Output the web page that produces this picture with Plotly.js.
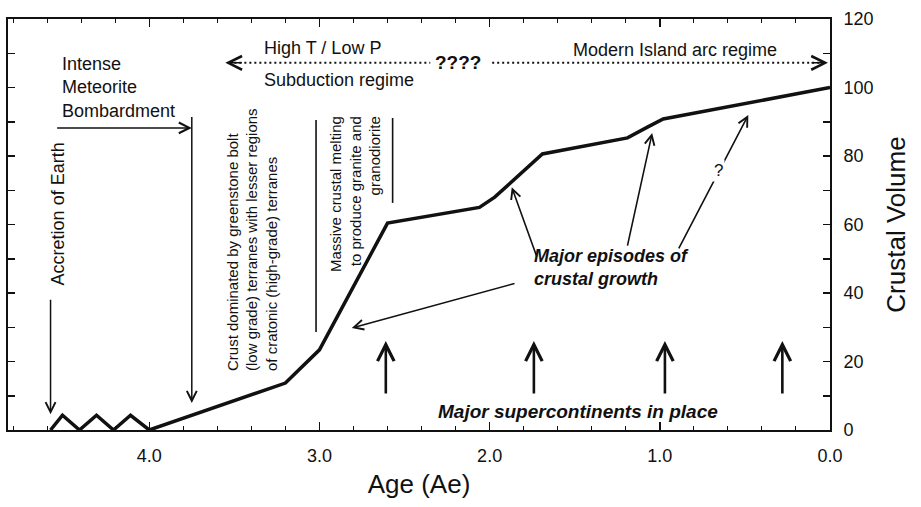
<!DOCTYPE html>
<html><head><meta charset="utf-8">
<script src="https://cdn.plot.ly/plotly-3.0.1.min.js"></script>
<style>html,body{margin:0;padding:0;background:#fff}#chart{width:921px;height:507px}</style>
</head><body><div id="chart"></div>
<script>
// Crustal growth curve (age in Ae, crustal volume in %)
const ageAe = [4.58, 4.51, 4.41, 4.31, 4.21, 4.11, 4.0, 3.2, 3.0, 2.6, 2.06, 1.97, 1.69, 1.19, 1.07, 0.98, 0.0];
const crustalVolume = [0, 4.3, 0, 4.3, 0, 4.3, 0, 13.7, 23.4, 60.4, 65.0, 68.0, 80.6, 85.3, 88.5, 90.8, 100];

// "Major episodes of crustal growth" arrows
const episodeTipAge = [2.81, 1.87, 1.045, 0.48];
const episodeTipVol = [29.8, 70.9, 86.7, 92.0];
const episodeTailAge = [1.845, 1.72, 1.192, 0.893];
const episodeTailVol = [42.9, 50.2, 53.4, 52.6];

// Major supercontinents in place
const superAges = [2.61, 1.74, 0.97, 0.28];
const superArrowBase = 10.2;
const superArrowTop = 26;

// Regime boundaries
const bombardmentEnd = 3.75;
const melting = [3.02, 2.57];

const FONT = 'Liberation Sans, Arial, Helvetica, sans-serif';
const K = '#111';

const traces = [{
  x: ageAe, y: crustalVolume, type: 'scatter', mode: 'lines',
  line: {color: K, width: 3.5}, hoverinfo: 'skip'
}];

function arr(x, y, ax, ay, o) {
  return Object.assign({x: x, y: y, ax: ax, ay: ay, xref: 'x', yref: 'y', axref: 'x', ayref: 'y',
    text: '', showarrow: true, arrowhead: 5, arrowsize: 1.2, arrowwidth: 1.6, arrowcolor: K, standoff: 0}, o || {});
}
function txt(x, y, t, o) {
  return Object.assign({x: x, y: y, xref: 'x', yref: 'y', text: t, showarrow: false,
    font: {family: FONT, size: 18, color: K}}, o || {});
}

const ann = [];
// Episode arrows
for (let i = 0; i < episodeTipAge.length; i++) {
  ann.push(arr(episodeTipAge[i], episodeTipVol[i], episodeTailAge[i], episodeTailVol[i]));
}
// Supercontinent arrows
superAges.forEach(a => ann.push(arr(a, superArrowTop, a, superArrowBase, {arrowwidth: 2.6, arrowsize: 1.25})));
// Accretion arrow
ann.push(arr(4.58, 4.6, 4.58, 38.5, {arrowwidth: 1.5, arrowsize: 1.3}));
// Bombardment arrows
ann.push(arr(bombardmentEnd, 88.2, 4.55, 88.2, {arrowwidth: 1.5, arrowsize: 1.4}));
ann.push(arr(bombardmentEnd, 7.9, bombardmentEnd, 91.8, {arrowwidth: 1.5, arrowsize: 1.3}));
// Regime dotted arrow heads
ann.push({x: 3.553, y: 107.2, xref: 'x', yref: 'y', ax: 18, ay: 0, text: '', showarrow: true,
  arrowhead: 5, arrowsize: 1.8, arrowwidth: 1.5, arrowcolor: K, standoff: 0});
ann.push({x: 0.012, y: 107.2, xref: 'x', yref: 'y', ax: -18, ay: 0, text: '', showarrow: true,
  arrowhead: 5, arrowsize: 1.8, arrowwidth: 1.5, arrowcolor: K, standoff: 0});

// Texts
ann.push(txt(4.527, 99.9, 'Intense<br>Meteorite<br>Bombardment', {xanchor: 'left', align: 'left'}));
ann.push(txt(4.539, 63.1, 'Accretion of Earth', {textangle: -90}));
ann.push(txt(3.335, 111.5, 'High T / Low P', {xanchor: 'left'}));
ann.push(txt(3.335, 102.2, 'Subduction regime', {xanchor: 'left'}));
ann.push(txt(2.187, 107.2, '????', {font: {family: FONT, size: 19, color: K, weight: 'bold'}}));
ann.push(txt(0.91, 111, 'Modern Island arc regime'));
ann.push(txt(3.40, 16.6, 'Crust dominated by greenstone bolt<br>(low grade) terranes with lesser regions<br>of cratonic (high-grade) terranes',
  {textangle: -90, align: 'left', yanchor: 'bottom', font: {family: FONT, size: 15, color: K}}));
ann.push(txt(2.79, 92.3, 'Massive crustal melting<br>to produce granite and<br>granodiorite',
  {textangle: -90, align: 'right', yanchor: 'top', font: {family: FONT, size: 15, color: K}}));
ann.push(txt(1.75, 47.5, 'Major episodes of<br>crustal growth',
  {xanchor: 'left', align: 'left', font: {family: FONT, size: 18, color: K, weight: 'bold', style: 'italic'}}));
ann.push(txt(1.48, 5.3, 'Major supercontinents in place',
  {font: {family: FONT, size: 19, color: K, weight: 'bold', style: 'italic'}}));
ann.push(txt(0.658, 75.9, '?', {bgcolor: '#fff', font: {family: FONT, size: 17, color: K}}));

const shapes = [
  {type: 'line', xref: 'x', yref: 'y', x0: 3.50, x1: 2.349, y0: 107.2, y1: 107.2, line: {color: K, width: 2, dash: '2px,3px'}},
  {type: 'line', xref: 'x', yref: 'y', x0: 1.985, x1: 0.06, y0: 107.2, y1: 107.2, line: {color: K, width: 2, dash: '2px,3px'}},
  {type: 'line', xref: 'x', yref: 'y', x0: melting[0], x1: melting[0], y0: 90.5, y1: 28.6, line: {color: K, width: 1.6}},
  {type: 'line', xref: 'x', yref: 'y', x0: melting[1], x1: melting[1], y0: 91.1, y1: 66.3, line: {color: K, width: 1.6}}
];

const layout = {
  width: 921, height: 507,
  margin: {l: 8, r: 91, t: 19, b: 77},
  paper_bgcolor: '#fff', plot_bgcolor: '#fff',
  showlegend: false, hovermode: false,
  font: {family: FONT, color: K},
  xaxis: {
    range: [4.83, 0], dtick: 1, tick0: 0, tickformat: '.1f',
    ticks: 'inside', ticklen: 8, tickwidth: 1.5, tickcolor: K,
    showline: true, linewidth: 2, linecolor: K, mirror: 'ticks',
    showgrid: false, zeroline: false,
    tickfont: {family: FONT, size: 18, color: K}, ticklabelstandoff: 8,
    minor: {dtick: 0.2, ticks: 'inside', ticklen: 4, tickwidth: 1, tickcolor: K, showgrid: false},
    title: {text: 'Age (Ae)', font: {family: FONT, size: 26, color: K}, standoff: 10}
  },
  yaxis: {
    side: 'right', range: [0, 120], dtick: 20,
    ticks: 'inside', ticklen: 7, tickwidth: 1.5, tickcolor: K,
    showline: true, linewidth: 2, linecolor: K, mirror: 'ticks',
    showgrid: false, zeroline: false,
    tickfont: {family: FONT, size: 18, color: K}, ticklabelstandoff: 8,
    minor: {dtick: 10, ticks: 'inside', ticklen: 7, tickwidth: 1.5, tickcolor: K, showgrid: false},
    title: {text: 'Crustal Volume', font: {family: FONT, size: 26, color: K}, standoff: 14}
  },
  annotations: ann,
  shapes: shapes
};

Plotly.newPlot('chart', traces, layout, {staticPlot: true, displayModeBar: false});
</script>
</body></html>
